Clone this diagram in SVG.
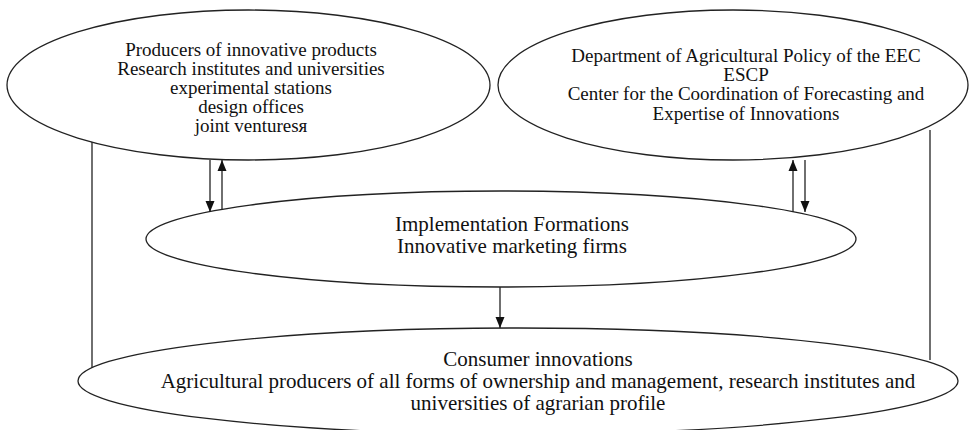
<svg xmlns="http://www.w3.org/2000/svg" width="970" height="430" viewBox="0 0 970 430">
<style>
.node ellipse{fill:#fff;stroke:#222;stroke-width:1.3}
.t{font-family:"Liberation Serif","Times New Roman",serif;font-size:19px;fill:#111;text-anchor:middle}
.tb{font-size:21px}
.c line{stroke:#222;stroke-width:1.3}
.arr{marker-end:url(#ah)}
</style>
<defs>
<marker id="ah" viewBox="0 0 11 10" refX="11" refY="5" markerWidth="11" markerHeight="10" markerUnits="userSpaceOnUse" orient="auto">
<path d="M0,0.5 L11,5 L0,9.5 z" fill="#111"/>
</marker>
</defs>
<g class="c" id="connectors">
<line x1="92" y1="141" x2="92" y2="368"/>
<line x1="930" y1="130" x2="930" y2="360"/>
</g>
<g class="node" id="producers">
<ellipse cx="248.5" cy="85" rx="241.5" ry="75"/>
<text class="t" x="251" y="56">Producers of innovative products</text>
<text class="t" x="251" y="75">Research institutes and universities</text>
<text class="t" x="251" y="94">experimental stations</text>
<text class="t" x="251" y="113">design offices</text>
<text class="t" x="251" y="132">joint venturesя</text>
</g>
<g class="node" id="department">
<ellipse cx="733" cy="85" rx="235" ry="75"/>
<text class="t" x="746" y="62">Department of Agricultural Policy of the EEC</text>
<text class="t" x="746" y="81">ESCP</text>
<text class="t" x="746" y="100">Center for the Coordination of Forecasting and</text>
<text class="t" x="746" y="120">Expertise of Innovations</text>
</g>
<g class="node" id="implementation">
<ellipse cx="501" cy="239" rx="355" ry="48"/>
<text class="t tb" x="512" y="231">Implementation Formations</text>
<text class="t tb" x="512" y="253">Innovative marketing firms</text>
</g>
<g class="node" id="consumer">
<ellipse cx="518" cy="381" rx="440" ry="53"/>
<text class="t tb" x="538" y="366">Consumer innovations</text>
<text class="t tb" x="538" y="388">Agricultural producers of all forms of ownership and management, research institutes and</text>
<text class="t tb" x="538" y="410">universities of agrarian profile</text>
</g>
<g class="c" id="arrows">
<line class="arr" x1="210" y1="160" x2="210" y2="212"/>
<line class="arr" x1="222" y1="210" x2="222" y2="160"/>
<line class="arr" x1="793" y1="212" x2="793" y2="160"/>
<line class="arr" x1="805" y1="160" x2="805" y2="212"/>
<line class="arr" x1="500" y1="287" x2="500" y2="328"/>
</g>
</svg>
